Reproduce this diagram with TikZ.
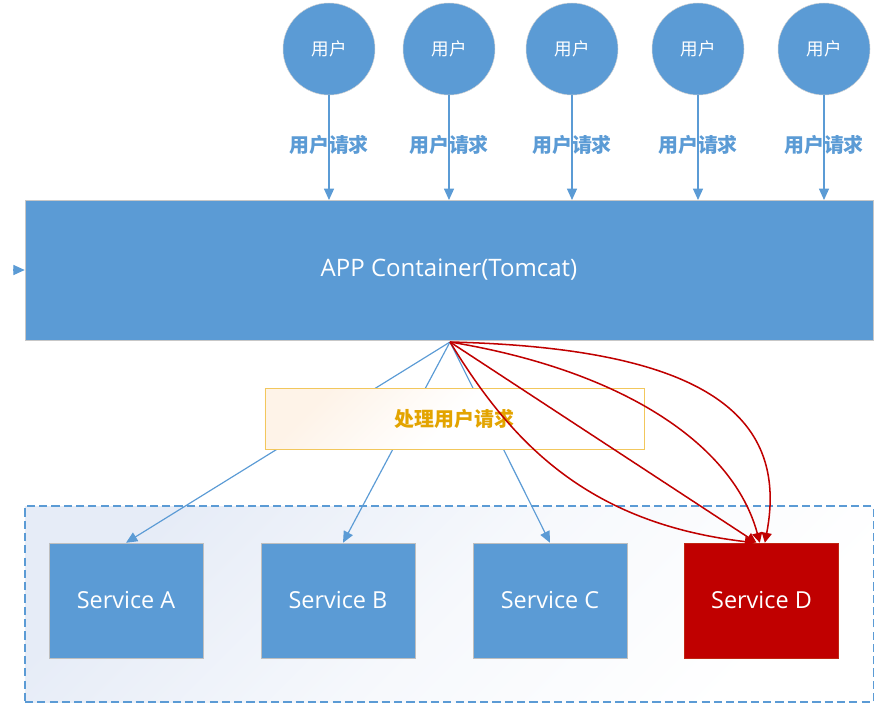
\documentclass[tikz,border=0pt]{standalone}
\usepackage{fontspec}
\setmainfont{Open Sans}
\newfontfamily\cjk{Noto Sans CJK SC}
\usetikzlibrary{arrows.meta}

\definecolor{appblue}{HTML}{5B9BD5}
\definecolor{svcred}{HTML}{C00000}
\definecolor{gold}{HTML}{E3A400}
\definecolor{goldline}{HTML}{F2C75C}
\definecolor{peach}{HTML}{FEF3E8}
\definecolor{paleblue}{HTML}{E6ECF7}

\tikzset{
  user/.style={circle, fill=appblue, draw=black!18, minimum size=2.76cm,
    text=white, font=\cjk\fontsize{15}{15}\selectfont},
  reqlabel/.style={text=appblue, font=\cjk\bfseries\fontsize{17}{17}\selectfont},
  service/.style={rectangle, fill=appblue, draw=black!25, minimum width=4.62cm,
    minimum height=3.45cm, text=white, font=\fontsize{20}{20}\selectfont},
  bluearrow/.style={appblue, line width=1pt, -{Triangle[length=0.34cm,width=0.3cm]}},
  redarrow/.style={svcred, line width=1.3pt, -{Triangle[length=0.3cm,width=0.3cm]}},
}

\begin{document}
\begin{tikzpicture}[x=0.03cm, y=-0.03cm]
\useasboundingbox (0,0) rectangle (881,704);

% service group
\node [draw=appblue, dashed, dash pattern=on 7pt off 3.5pt, line width=0.9pt,
  top color=paleblue, bottom color=white, middle color=paleblue!35, shading angle=45,
  minimum width=25.44cm, minimum height=5.88cm] (group) at (449,604) {};
\node [service] (svcA) at (126,600.5) {Service A};
\node [service] (svcB) at (338,600.5) {Service B};
\node [service] (svcC) at (550,600.5) {Service C};
\node [service, fill=svcred, draw=svcred!70!brown] (svcD) at (761.5,600.5) {Service D};

% container
\node [fill=appblue, draw=black!22, minimum width=25.44cm, minimum height=4.2cm,
  text=white, font=\fontsize{20.5}{20.5}\selectfont] (app) at (449,270) {APP Container(Tomcat)};
\coordinate (hub) at (450,342);
\coordinate (entry) at (13,270);
\draw [bluearrow] (entry) -- (app.west);

% users
\foreach \x/\name in {329/u1, 449/u2, 572/u3, 698/u4, 824/u5} {
  \node [user] (\name) at (\x,49) {用户};
  \node [reqlabel] (\name req) at (\x,145) {用户请求};
  \draw [bluearrow] (\name) -- (\x,200);
}

% dispatch
\draw [bluearrow] (hub) -- (svcA.north);
\draw [bluearrow] (hub) -- ([xshift=0.15cm]svcB.north);
\draw [bluearrow] (hub) -- (svcC.north);

\node [draw=goldline, line width=0.8pt, top color=peach, bottom color=white,
  middle color=white, shading angle=45,
  minimum width=11.37cm, minimum height=1.83cm, text=gold,
  font=\cjk\bfseries\fontsize{17}{17}\selectfont] (handle) at (454.5,418.5) {处理用户请求};

% all requests end up at D
\draw [redarrow] (hub) .. controls +(250,6) and +(25,-130) .. ([xshift=0.1cm]svcD.north);
\draw [redarrow] (hub) .. controls +(170,28) and +(-27,-100) .. ([xshift=-0.05cm]svcD.north);
\draw [redarrow] (hub) -- ([xshift=-0.15cm]svcD.north);
\draw [redarrow] (hub) .. controls +(60,98) and +(-170,-20) .. ([xshift=-0.2cm]svcD.north);
\end{tikzpicture}
\end{document}
